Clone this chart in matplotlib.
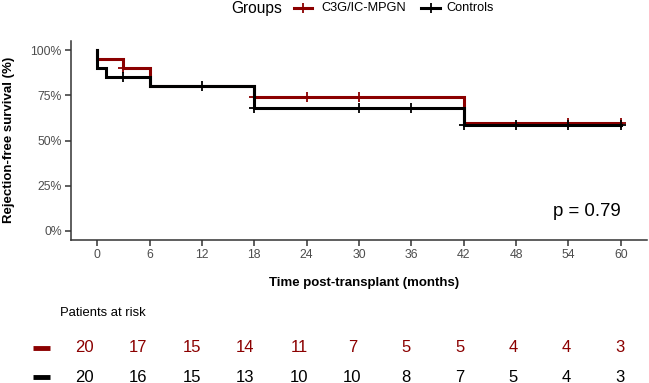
import matplotlib
matplotlib.use("Agg")
import matplotlib.pyplot as plt
from matplotlib.lines import Line2D
from matplotlib import transforms

plt.rcParams['font.family'] = ['Liberation Sans', 'DejaVu Sans']

# ---------------- data ----------------
groups = ["C3G/IC-MPGN", "Controls"]
colors = ["#8B0000", "#000000"]

red_times = [0, 0, 3, 6, 18, 42, 60]
red_surv = [1.0, 0.95, 0.90, 0.80, 0.743, 0.594, 0.594]
red_cens_t = [3, 18, 24, 30, 54, 60]
red_cens_s = [0.90, 0.743, 0.743, 0.743, 0.594, 0.594]

blk_times = [0, 0, 1, 6, 18, 42, 60]
blk_surv = [1.0, 0.90, 0.85, 0.80, 0.68, 0.583, 0.583]
blk_cens_t = [3, 12, 18, 30, 36, 42, 48, 54, 60]
blk_cens_s = [0.85, 0.80, 0.68, 0.68, 0.68, 0.583, 0.583, 0.583, 0.583]

risk_times = [0, 6, 12, 18, 24, 30, 36, 42, 48, 54, 60]
risk_red = [20, 17, 15, 14, 11, 7, 5, 5, 4, 4, 3]
risk_blk = [20, 16, 15, 13, 10, 10, 8, 7, 5, 4, 3]

yticks = [0, 0.25, 0.5, 0.75, 1.0]
ytick_labels = ["0%", "25%", "50%", "75%", "100%"]
pval_text = "p = 0.79"

# ---------------- layout ----------------
W, H = 649, 383
fig = plt.figure(figsize=(W / 100, H / 100), dpi=100)


def fx(px):
    return px / W


def fy(py):
    return 1 - py / H


ax = fig.add_axes([fx(71), fy(240), fx(647) - fx(71), fy(41) - fy(240)])
ax.set_xlim(-3, 63)
ax.set_ylim(-0.05, 1.05)

lw = 2.2
ax.step(red_times, red_surv, where='post', color=colors[0], lw=lw, solid_joinstyle='miter', zorder=3)
ax.plot(red_cens_t, red_cens_s, ls='none', marker='+', ms=7, mew=1.3, color=colors[0], zorder=3)
ax.step(blk_times, blk_surv, where='post', color=colors[1], lw=lw, solid_joinstyle='miter', zorder=4)
ax.plot(blk_cens_t, blk_cens_s, ls='none', marker='+', ms=7, mew=1.3, color=colors[1], zorder=4)

for s in ['top', 'right']:
    ax.spines[s].set_visible(False)
for s in ['left', 'bottom']:
    ax.spines[s].set_color('#333333')
    ax.spines[s].set_linewidth(1.1)

ax.set_xticks(risk_times)
ax.set_xticklabels([str(t) for t in risk_times])
ax.set_yticks(yticks)
ax.set_yticklabels(ytick_labels)
ax.tick_params(axis='both', length=4, width=1.1, color='#333333',
               labelcolor='#4D4D4D', labelsize=8.8, pad=2.5)

ax.text(60, 0.11, pval_text, ha='right', va='center', fontsize=13.4, color='black')

fig.text(fx(364), fy(283), "Time post-transplant (months)", ha='center', va='center',
         fontsize=9.5, fontweight='bold')
fig.text(fx(9), fy(140), "Rejection-free survival (%)", ha='center', va='center',
         rotation=90, fontsize=9.5, fontweight='bold')

# ---------------- legend ----------------
fig.text(fx(231), fy(8), "Groups", ha='left', va='center', fontsize=11.2, color='black')
key_x = [(294, 312), (421, 440)]
lab_x = [321, 446]
for (x0, x1), lx, lab, c in zip(key_x, lab_x, groups, colors):
    fig.add_artist(Line2D([fx(x0), fx(x1)], [fy(8), fy(8)], color=c, lw=lw,
                          transform=fig.transFigure))
    fig.add_artist(Line2D([fx((x0 + x1) / 2)], [fy(8)], color=c, marker='+', ms=7, mew=1.3,
                          transform=fig.transFigure))
    fig.text(fx(lx), fy(8), lab, ha='left', va='center', fontsize=9.2, color='black')

# ---------------- risk table ----------------
axr = fig.add_axes([fx(58), 0, fx(647) - fx(58), fy(300)])
axr.set_xlim(-3, 63)
axr.axis('off')
tr = transforms.blended_transform_factory(axr.transData, fig.transFigure)

fig.text(fx(60), fy(313), "Patients at risk", ha='left', va='center', fontsize=9.4, color='black')
for vals, c, yy in [(risk_red, colors[0], 348), (risk_blk, colors[1], 377)]:
    for t, v in zip(risk_times, vals):
        axr.text(t, fy(yy), str(v), ha='center', va='center', fontsize=12, color=c, transform=tr)
    fig.add_artist(Line2D([fx(33), fx(50)], [fy(yy), fy(yy)], color=c, lw=3.5,
                          solid_capstyle='butt', transform=fig.transFigure))

fig.savefig("out.png", dpi=100)
